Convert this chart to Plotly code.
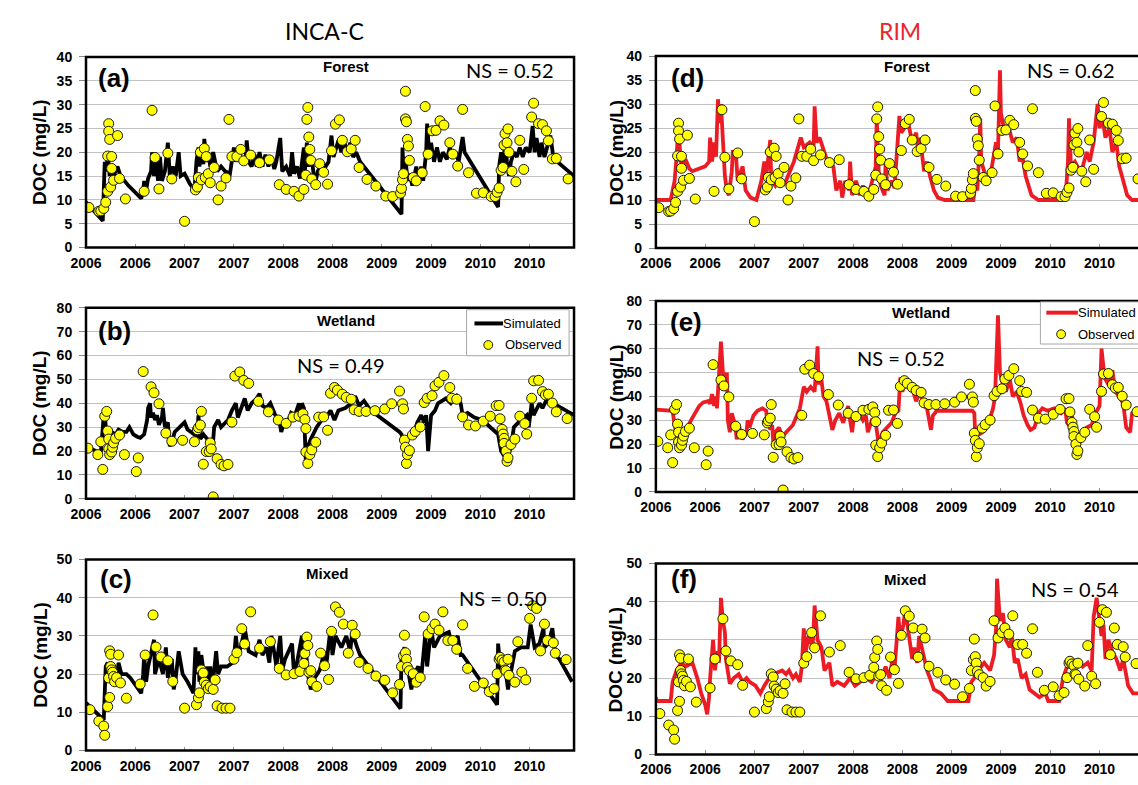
import plotly.graph_objects as go

# ---------------- data (decimal years, DOC mg/L) ----------------
TICK_VALS = [2006.0, 2006.5, 2007.0, 2007.5, 2008.0, 2008.5, 2009.0, 2009.5, 2010.0, 2010.5]
TICK_TEXT = ["2006", "2006", "2007", "2007", "2008", "2008", "2009", "2009", "2010", "2010"]

forest_obs_t = [2006.03, 2006.13, 2006.15, 2006.18, 2006.20, 2006.22, 2006.23, 2006.23, 2006.24, 2006.22,
                2006.26, 2006.25, 2006.26, 2006.28, 2006.34, 2006.32, 2006.40, 2006.59, 2006.67, 2006.70,
                2006.74, 2006.83, 2006.87, 2007.00, 2007.11, 2007.13, 2007.14, 2007.16, 2007.17, 2007.20,
                2007.22, 2007.21, 2007.24, 2007.26, 2007.30, 2007.34, 2007.37, 2007.42, 2007.45, 2007.48,
                2007.53, 2007.57, 2007.60, 2007.67, 2007.76, 2007.86, 2007.96, 2008.03, 2008.11, 2008.16,
                2008.21, 2008.23, 2008.24, 2008.25, 2008.26, 2008.27, 2008.28, 2008.29, 2008.33, 2008.37,
                2008.41, 2008.45, 2008.49, 2008.53, 2008.57, 2008.60, 2008.65, 2008.69, 2008.73, 2008.77,
                2008.85, 2008.94, 2009.04, 2009.11, 2009.19, 2009.20, 2009.21, 2009.22, 2009.24, 2009.24,
                2009.25, 2009.26, 2009.27, 2009.28, 2009.32, 2009.35, 2009.41, 2009.44, 2009.47, 2009.51,
                2009.55, 2009.59, 2009.63, 2009.69, 2009.72, 2009.77, 2009.82, 2009.88, 2009.96, 2010.03,
                2010.11, 2010.15, 2010.17, 2010.19, 2010.21, 2010.23, 2010.24, 2010.25, 2010.27, 2010.28,
                2010.29, 2010.32, 2010.36, 2010.40, 2010.44, 2010.52, 2010.54, 2010.59, 2010.63, 2010.67,
                2010.69, 2010.73, 2010.77, 2010.89]
forest_obs_v = [8.4, 7.6, 7.7, 8.2, 9.5, 11.8, 26.0, 24.4, 22.7, 19.2,
                19.1, 12.7, 16.6, 14.1, 14.5, 23.5, 10.2, 11.8, 28.8, 18.9,
                12.3, 19.8, 14.4, 5.5, 12.1, 12.7, 14.7, 20.0, 14.2, 20.8,
                19.1, 14.7, 15.5, 13.6, 16.8, 10.0, 12.9, 14.6, 26.9, 19.1,
                19.1, 20.6, 18.2, 19.4, 17.8, 18.4, 13.2, 12.2, 11.8, 10.8,
                12.2, 15.2, 26.9, 29.4, 23.2, 20.6, 18.3, 14.4, 13.2, 17.6,
                15.8, 13.3, 20.3, 25.9, 26.8, 22.5, 20.1, 20.7, 22.5, 16.8,
                14.3, 12.9, 10.8, 10.7, 11.4, 12.4, 14.2, 15.5, 32.8, 27.0,
                26.4, 22.7, 21.3, 18.3, 14.7, 14.0, 15.7, 29.6, 19.6, 24.5,
                24.6, 26.6, 25.7, 22.0, 19.6, 17.1, 29.0, 15.7, 11.4, 11.5,
                10.7, 10.7, 11.6, 12.5, 16.2, 16.8, 21.5, 23.9, 22.0, 24.9,
                20.0, 16.0, 13.8, 22.5, 16.4, 27.4, 30.3, 26.0, 25.8, 24.5,
                22.4, 18.6, 18.7, 14.4]

wetland_obs_t = [2006.02, 2006.12, 2006.15, 2006.17, 2006.19, 2006.21, 2006.22, 2006.23, 2006.23, 2006.24,
                 2006.26, 2006.27, 2006.28, 2006.30, 2006.34, 2006.39, 2006.51, 2006.53, 2006.58, 2006.66,
                 2006.69, 2006.74, 2006.81, 2006.87, 2006.98, 2007.10, 2007.13, 2007.14, 2007.16, 2007.17,
                 2007.19, 2007.22, 2007.25, 2007.26, 2007.27, 2007.33, 2007.37, 2007.40, 2007.44, 2007.29,
                 2007.51, 2007.56, 2007.60, 2007.65, 2007.48, 2007.75, 2007.85, 2007.95, 2008.03, 2008.10,
                 2008.16, 2008.20, 2008.22, 2008.23, 2008.23, 2008.25, 2008.27, 2008.29, 2008.33, 2008.36,
                 2008.41, 2008.45, 2008.48, 2008.52, 2008.55, 2008.60, 2008.64, 2008.69, 2008.72, 2008.77,
                 2008.84, 2008.93, 2009.03, 2009.10, 2009.18, 2009.21, 2009.22, 2009.23, 2009.24, 2009.25,
                 2009.26, 2009.28, 2009.31, 2009.34, 2009.39, 2009.43, 2009.46, 2009.51, 2009.54, 2009.58,
                 2009.63, 2009.69, 2009.71, 2009.76, 2009.82, 2009.88, 2009.95, 2010.03, 2010.10, 2010.16,
                 2010.19, 2010.20, 2010.22, 2010.23, 2010.24, 2010.24, 2010.26, 2010.27, 2010.28, 2010.31,
                 2010.35, 2010.40, 2010.45, 2010.47, 2010.52, 2010.54, 2010.59, 2010.63, 2010.66, 2010.69,
                 2010.73, 2010.77, 2010.88]
wetland_obs_v = [21.2, 18.5, 23.9, 12.3, 34.6, 36.6, 28.4, 25.0, 20.9, 18.5,
                 19.6, 21.6, 23.4, 25.3, 26.7, 18.5, 11.4, 17.1, 53.3, 46.9,
                 44.4, 39.8, 27.5, 24.1, 24.5, 23.9, 28.9, 29.8, 30.9, 36.6,
                 14.5, 19.8, 19.8, 23.4, 20.9, 16.8, 14.4, 13.8, 14.4, 0.8,
                 51.4, 53.1, 49.6, 48.3, 32.1, 40.8, 36.4, 33.0, 31.6, 34.2,
                 34.6, 35.6, 33.2, 29.4, 19.6, 14.8, 18.5, 20.5, 23.7, 34.2,
                 34.3, 28.7, 44.2, 46.6, 45.5, 43.8, 42.5, 41.7, 37.3, 36.6,
                 36.6, 36.9, 37.6, 39.8, 45.1, 39.8, 37.6, 24.6, 21.6, 14.8,
                 18.5, 20.2, 26.7, 28.2, 30.1, 40.3, 42.1, 43.2, 47.3, 48.8,
                 51.6, 46.6, 42.1, 41.7, 34.3, 30.9, 30.5, 32.5, 34.6, 39.0,
                 39.1, 33.5, 29.1, 27.1, 25.3, 23.2, 20.0, 15.7, 17.2, 22.7,
                 25.0, 34.6, 31.5, 27.1, 42.1, 49.4, 49.6, 44.9, 43.5, 43.8,
                 40.1, 36.4, 33.6]

mixed_obs_t = [2006.04, 2006.13, 2006.18, 2006.19, 2006.22, 2006.23, 2006.24, 2006.24, 2006.25, 2006.25,
               2006.26, 2006.27, 2006.28, 2006.29, 2006.31, 2006.33, 2006.35, 2006.41, 2006.55, 2006.60,
               2006.68, 2006.71, 2006.76, 2006.83, 2006.88, 2007.00, 2007.12, 2007.14, 2007.15, 2007.17,
               2007.19, 2007.20, 2007.22, 2007.24, 2007.26, 2007.29, 2007.31, 2007.33, 2007.38, 2007.42,
               2007.46, 2007.50, 2007.53, 2007.58, 2007.61, 2007.67, 2007.76, 2007.87, 2007.96, 2008.03,
               2008.11, 2008.17, 2008.21, 2008.22, 2008.24, 2008.25, 2008.26, 2008.28, 2008.29, 2008.34,
               2008.38, 2008.42, 2008.46, 2008.49, 2008.53, 2008.57, 2008.61, 2008.66, 2008.70, 2008.73,
               2008.77, 2008.86, 2008.94, 2009.03, 2009.11, 2009.18, 2009.20, 2009.22, 2009.23, 2009.24,
               2009.25, 2009.26, 2009.28, 2009.32, 2009.35, 2009.39, 2009.43, 2009.47, 2009.51, 2009.54,
               2009.58, 2009.62, 2009.67, 2009.72, 2009.76, 2009.82, 2009.87, 2009.94, 2010.03, 2010.09,
               2010.14, 2010.17, 2010.19, 2010.20, 2010.22, 2010.24, 2010.25, 2010.26, 2010.28, 2010.29,
               2010.35, 2010.38, 2010.42, 2010.46, 2010.50, 2010.53, 2010.57, 2010.61, 2010.65, 2010.68,
               2010.74, 2010.76, 2010.87]
mixed_obs_v = [10.7, 7.7, 6.4, 4.0, 11.5, 19.0, 13.9, 26.1, 25.2, 22.0,
               21.1, 20.5, 19.4, 18.0, 19.1, 25.0, 17.7, 13.7, 17.4, 25.0,
               35.5, 27.1, 24.5, 23.5, 18.1, 11.1, 12.0, 13.8, 15.1, 21.1,
               20.3, 17.9, 17.1, 16.2, 16.7, 16.0, 18.5, 11.7, 11.1, 11.1,
               11.1, 23.9, 25.6, 31.9, 27.9, 36.3, 26.8, 28.5, 21.5, 19.8,
               20.1, 20.7, 22.8, 25.4, 29.7, 27.5, 20.5, 20.9, 18.0, 16.8,
               25.5, 22.2, 18.6, 31.2, 37.6, 36.2, 33.1, 25.5, 32.8, 30.5,
               23.1, 21.5, 19.5, 18.4, 15.1, 17.3, 22.0, 24.8, 30.2, 25.6,
               23.9, 21.8, 20.9, 20.1, 17.9, 19.1, 35.0, 30.5, 31.9, 33.1,
               31.5, 36.3, 28.8, 28.8, 26.5, 32.9, 21.5, 16.8, 17.7, 15.4,
               16.2, 20.1, 23.9, 24.4, 23.7, 23.2, 21.1, 20.9, 23.9, 19.7,
               17.9, 28.5, 20.5, 18.5, 34.6, 37.9, 37.2, 26.1, 33.1, 28.8,
               28.2, 25.5, 23.8]

inca_forest_t = [2006.00, 2006.17, 2006.19, 2006.21, 2006.22, 2006.24, 2006.26, 2006.28, 2006.32, 2006.35,
                 2006.43, 2006.52, 2006.56, 2006.58, 2006.59, 2006.61, 2006.63, 2006.66, 2006.67, 2006.69,
                 2006.71, 2006.73, 2006.75, 2006.77, 2006.80, 2006.83, 2006.85, 2006.88, 2006.91, 2006.94,
                 2006.96, 2007.00, 2007.05, 2007.10, 2007.12, 2007.14, 2007.15, 2007.17, 2007.19, 2007.20,
                 2007.22, 2007.24, 2007.26, 2007.29, 2007.33, 2007.37, 2007.41, 2007.46, 2007.48, 2007.50,
                 2007.52, 2007.55, 2007.58, 2007.62, 2007.63, 2007.65, 2007.68, 2007.71, 2007.73, 2007.76,
                 2007.79, 2007.82, 2007.85, 2007.88, 2007.91, 2007.93, 2007.97, 2007.99, 2008.03, 2008.07,
                 2008.09, 2008.11, 2008.14, 2008.17, 2008.21, 2008.22, 2008.24, 2008.26, 2008.29, 2008.31,
                 2008.32, 2008.35, 2008.39, 2008.43, 2008.46, 2008.49, 2008.51, 2008.54, 2008.56, 2008.59,
                 2008.62, 2008.66, 2008.68, 2008.71, 2008.74, 2008.78, 2009.20, 2009.21, 2009.22, 2009.24,
                 2009.26, 2009.28, 2009.31, 2009.35, 2009.37, 2009.40, 2009.42, 2009.45, 2009.46, 2009.48,
                 2009.50, 2009.53, 2009.56, 2009.59, 2009.62, 2009.66, 2009.69, 2009.72, 2009.75, 2009.78,
                 2009.80, 2009.82, 2009.84, 2010.18, 2010.19, 2010.21, 2010.23, 2010.25, 2010.27, 2010.29,
                 2010.31, 2010.34, 2010.37, 2010.40, 2010.43, 2010.46, 2010.50, 2010.53, 2010.55, 2010.57,
                 2010.60, 2010.62, 2010.65, 2010.68, 2010.71, 2010.74, 2010.78, 2010.95]
inca_forest_v = [9.5, 5.6, 18, 16, 20, 15, 17.5, 15, 17, 15,
                 13, 11, 10.3, 12, 14, 12, 14.5, 16, 20, 15,
                 19, 14, 19, 14, 16, 22, 15, 17, 15, 20,
                 15, 15.5, 13.5, 12, 18, 21, 17, 20, 17.5, 22.8,
                 18, 20, 17, 20, 16, 17, 16, 15.5, 18, 21,
                 18, 20, 18.5, 19, 22.5, 18, 17, 19.5, 17, 20,
                 17, 19.5, 17, 19, 16.5, 18, 23, 16, 17, 15,
                 20, 15.5, 17, 14.5, 21, 16, 22, 17, 19, 14,
                 13, 16, 17.5, 17, 18, 23.5, 19, 21, 22.5, 20,
                 22, 20, 22, 19, 20, 18, 7, 21, 16, 19,
                 14, 15.5, 13, 17, 14, 17, 14, 20, 26, 20,
                 22, 18, 21, 18, 20, 18.5, 21, 19, 20, 18,
                 21, 23.2, 20, 8.5, 17, 20, 17, 22, 18, 15,
                 18, 20, 19, 21, 19, 21, 20, 25.5, 20, 23,
                 19, 22, 19, 21, 23.5, 19, 18, 15]

inca_wetland_t = [2006.00, 2006.15, 2006.18, 2006.19, 2006.21, 2006.26, 2006.30, 2006.33, 2006.37, 2006.41,
                  2006.44, 2006.48, 2006.52, 2006.55, 2006.59, 2006.62, 2006.63, 2006.65, 2006.66, 2006.68,
                  2006.70, 2006.72, 2006.74, 2006.77, 2006.78, 2006.80, 2006.83, 2006.85, 2006.88, 2006.90,
                  2006.95, 2007.00, 2007.03, 2007.06, 2007.11, 2007.13, 2007.14, 2007.16, 2007.19, 2007.23,
                  2007.25, 2007.28, 2007.30, 2007.34, 2007.37, 2007.41, 2007.44, 2007.48, 2007.52, 2007.54,
                  2007.57, 2007.61, 2007.64, 2007.68, 2007.73, 2007.76, 2007.79, 2007.83, 2007.87, 2007.92,
                  2007.96, 2007.98, 2008.01, 2008.03, 2008.08, 2008.12, 2008.16, 2008.17, 2008.19, 2008.21,
                  2008.23, 2008.25, 2008.28, 2008.34, 2008.39, 2008.45, 2008.48, 2008.52, 2008.56, 2008.63,
                  2008.69, 2008.73, 2008.77, 2008.82, 2008.87, 2008.90, 2008.92, 2009.18, 2009.20, 2009.22,
                  2009.25, 2009.33, 2009.36, 2009.40, 2009.43, 2009.45, 2009.47, 2009.50, 2009.54, 2009.57,
                  2009.65, 2009.70, 2009.76, 2009.80, 2009.82, 2009.87, 2009.94, 2010.02, 2010.18, 2010.21,
                  2010.27, 2010.31, 2010.34, 2010.41, 2010.47, 2010.49, 2010.52, 2010.54, 2010.60, 2010.63,
                  2010.69, 2010.74, 2010.82, 2010.95]
inca_wetland_v = [22, 19, 35, 36, 25, 28, 27, 29, 28, 28,
                  30, 27, 26, 25.5, 27, 33, 38, 40, 34, 36,
                  33, 35, 31, 34, 38, 30, 32, 22, 25, 28,
                  30, 32, 29, 28, 26.5, 26, 35, 25, 27, 25,
                  22, 19, 30, 33, 30, 32, 33, 37, 40, 34,
                  38, 42, 37, 40, 42, 44, 39, 38, 40, 35,
                  33, 28, 32, 30, 36, 35, 40, 35, 40, 38,
                  15, 22, 25, 30, 33, 35, 37, 33, 37, 38,
                  40, 43, 39, 41, 38, 37, 36, 28, 27, 22,
                  25, 28, 32, 35, 32, 35, 20, 35, 37, 40,
                  42, 40, 43, 40, 35, 36, 34, 33, 27, 20,
                  16, 22, 30, 33, 35, 30, 40, 35, 40, 38,
                  43, 40, 38, 35]

inca_mixed_t = [2006.00, 2006.18, 2006.20, 2006.22, 2006.25, 2006.27, 2006.31, 2006.33, 2006.36, 2006.41,
                2006.45, 2006.56, 2006.58, 2006.59, 2006.61, 2006.63, 2006.69, 2006.70, 2006.74, 2006.78,
                2006.81, 2006.83, 2006.87, 2006.89, 2006.91, 2006.92, 2006.94, 2006.98, 2007.03, 2007.09,
                2007.11, 2007.12, 2007.14, 2007.15, 2007.17, 2007.21, 2007.22, 2007.24, 2007.26, 2007.28,
                2007.30, 2007.32, 2007.34, 2007.37, 2007.43, 2007.49, 2007.50, 2007.52, 2007.54, 2007.57,
                2007.61, 2007.65, 2007.72, 2007.76, 2007.79, 2007.83, 2007.86, 2007.88, 2007.92, 2007.93,
                2007.97, 2007.99, 2008.02, 2008.09, 2008.11, 2008.14, 2008.19, 2008.20, 2008.22, 2008.25,
                2008.28, 2008.32, 2008.37, 2008.41, 2008.44, 2008.48, 2008.50, 2008.53, 2008.59, 2008.64,
                2008.68, 2008.70, 2008.75, 2008.78, 2008.84, 2009.19, 2009.20, 2009.23, 2009.26, 2009.30,
                2009.33, 2009.37, 2009.40, 2009.42, 2009.44, 2009.46, 2009.50, 2009.53, 2009.59, 2009.68,
                2009.71, 2009.77, 2009.80, 2009.82, 2010.17, 2010.18, 2010.21, 2010.24, 2010.28, 2010.32,
                2010.35, 2010.41, 2010.48, 2010.51, 2010.55, 2010.60, 2010.64, 2010.65, 2010.69, 2010.73,
                2010.76, 2010.80, 2010.93]
inca_mixed_v = [12.5, 8, 22, 23, 20, 22, 18, 23, 20, 20,
                19, 15, 20, 25, 18, 22, 29, 20, 24, 20,
                27, 19, 24, 16, 19, 22, 26, 20, 18, 15,
                27, 20, 26, 18, 25, 17, 22, 18, 22, 16,
                22, 26, 20, 22, 22, 23, 24, 30, 25, 27,
                32, 26, 25, 29, 25, 27, 23, 30, 24, 22,
                30, 21, 24, 28, 20, 23, 30, 20, 30, 20,
                16, 19, 21, 25, 23, 32, 25, 30, 27, 30,
                26, 31, 27, 25, 23, 11, 25, 27, 22, 16,
                20, 22, 19, 25, 30, 22, 32, 27, 30, 31,
                28, 30, 25, 25, 12, 28, 20, 24, 16, 22,
                26, 27, 27, 33, 27, 28, 32, 27, 28, 32,
                25, 24, 18]

rim_forest_t = [2006.00, 2006.15, 2006.17, 2006.19, 2006.21, 2006.23, 2006.25, 2006.28, 2006.30, 2006.34,
                2006.37, 2006.45, 2006.50, 2006.54, 2006.55, 2006.57, 2006.59, 2006.61, 2006.63, 2006.65,
                2006.66, 2006.70, 2006.72, 2006.74, 2006.77, 2006.78, 2006.81, 2006.83, 2006.88, 2006.91,
                2006.96, 2007.02, 2007.05, 2007.07, 2007.10, 2007.12, 2007.16, 2007.17, 2007.21, 2007.25,
                2007.29, 2007.32, 2007.36, 2007.40, 2007.47, 2007.50, 2007.56, 2007.60, 2007.61, 2007.63,
                2007.66, 2007.69, 2007.74, 2007.80, 2007.83, 2007.87, 2007.89, 2007.92, 2007.96, 2007.97,
                2007.99, 2008.03, 2008.07, 2008.10, 2008.14, 2008.17, 2008.21, 2008.23, 2008.24, 2008.25,
                2008.26, 2008.28, 2008.32, 2008.33, 2008.35, 2008.39, 2008.42, 2008.47, 2008.49, 2008.52,
                2008.56, 2008.60, 2008.64, 2008.66, 2008.68, 2008.72, 2008.75, 2008.78, 2008.82, 2008.86,
                2008.93, 2009.18, 2009.22, 2009.24, 2009.26, 2009.28, 2009.29, 2009.30, 2009.33, 2009.36,
                2009.40, 2009.43, 2009.45, 2009.47, 2009.49, 2009.50, 2009.52, 2009.55, 2009.58, 2009.62,
                2009.66, 2009.69, 2009.71, 2009.75, 2009.78, 2009.81, 2009.88, 2010.13, 2010.16, 2010.18,
                2010.19, 2010.21, 2010.25, 2010.30, 2010.33, 2010.37, 2010.40, 2010.44, 2010.48, 2010.50,
                2010.53, 2010.56, 2010.60, 2010.63, 2010.67, 2010.70, 2010.74, 2010.78, 2010.83, 2010.89]
rim_forest_v = [10, 10, 12, 14, 19, 26, 18, 17, 18.5, 16.5,
                16, 16.5, 17, 18, 23, 18, 22, 19, 31, 26,
                30, 15, 12, 11, 16, 20, 20, 14, 17, 12,
                10.5, 10, 12, 14, 18, 15, 22.5, 14, 13, 15,
                13, 14, 16, 18, 23, 21, 22, 21, 29.5, 22,
                23, 21, 18, 17, 12, 14, 10.5, 14, 12, 18,
                11, 14, 11, 13, 11, 12, 15, 17, 27, 22,
                16, 13, 11, 18, 12, 14, 12.5, 27.5, 24, 25,
                26, 22, 24, 20, 23, 16, 18, 15, 12, 10.5,
                10, 10, 10, 13, 12, 20, 27, 18, 16, 14,
                16, 20, 22, 20, 37, 28, 26, 24, 25, 22,
                23, 18, 20, 15, 13, 11, 10, 10, 12, 18,
                27, 17, 18, 16, 17, 20, 18, 22, 30, 25,
                27, 23, 25, 20, 22, 17, 14, 11, 10, 10]

rim_wetland_t = [2006.00, 2006.17, 2006.19, 2006.23, 2006.26, 2006.29, 2006.33, 2006.37, 2006.41, 2006.44,
                 2006.48, 2006.53, 2006.55, 2006.57, 2006.59, 2006.61, 2006.62, 2006.66, 2006.68, 2006.70,
                 2006.72, 2006.73, 2006.75, 2006.77, 2006.79, 2006.81, 2006.82, 2006.84, 2006.88, 2006.92,
                 2006.93, 2006.95, 2006.99, 2007.03, 2007.08, 2007.12, 2007.13, 2007.14, 2007.16, 2007.18,
                 2007.19, 2007.21, 2007.25, 2007.27, 2007.30, 2007.34, 2007.39, 2007.43, 2007.46, 2007.50,
                 2007.53, 2007.57, 2007.61, 2007.64, 2007.65, 2007.67, 2007.70, 2007.73, 2007.76, 2007.79,
                 2007.82, 2007.86, 2007.90, 2007.93, 2007.95, 2007.97, 2007.99, 2008.01, 2008.06, 2008.10,
                 2008.13, 2008.15, 2008.19, 2008.23, 2008.26, 2008.30, 2008.34, 2008.39, 2008.43, 2008.46,
                 2008.48, 2008.50, 2008.53, 2008.57, 2008.61, 2008.64, 2008.68, 2008.72, 2008.75, 2008.79,
                 2008.81, 2008.85, 2009.21, 2009.23, 2009.24, 2009.31, 2009.35, 2009.39, 2009.42, 2009.44,
                 2009.47, 2009.49, 2009.52, 2009.55, 2009.59, 2009.62, 2009.66, 2009.70, 2009.73, 2009.77,
                 2009.80, 2009.84, 2009.88, 2009.92, 2009.97, 2010.04, 2010.11, 2010.15, 2010.17, 2010.21,
                 2010.22, 2010.25, 2010.28, 2010.30, 2010.37, 2010.42, 2010.46, 2010.50, 2010.52, 2010.55,
                 2010.59, 2010.63, 2010.66, 2010.70, 2010.74, 2010.77, 2010.81, 2010.83, 2010.89]
rim_wetland_v = [34.5, 34, 28, 20, 22, 25, 28, 31, 34, 36,
                 37.5, 38, 37, 41, 36, 40, 35, 63, 50, 45,
                 50, 30, 25, 33, 30, 26, 22, 28, 22, 25,
                 30, 27, 32, 34, 35, 34, 27, 33, 26, 28,
                 21, 25, 27, 24, 24, 26, 28, 32, 35, 44,
                 42, 44, 42, 61, 45, 50, 40, 38, 32, 26,
                 30, 33, 29, 33, 36, 30, 25, 32, 33, 30,
                 32, 25, 30, 29, 20, 25, 27, 29, 33, 34,
                 48, 42, 46, 44, 42, 38, 42, 36, 35, 26,
                 32, 34, 34, 33, 23, 25, 27, 31, 35, 40,
                 74, 50, 45, 42, 47, 40, 42, 37, 32, 28,
                 26, 27, 33, 35, 34, 35, 33, 35, 29, 27,
                 32, 21, 17, 22, 27, 28, 33, 36, 60, 48,
                 45, 51, 42, 40, 37, 27, 25, 33, 35]

rim_mixed_t = [2006.00, 2006.01, 2006.15, 2006.17, 2006.21, 2006.26, 2006.30, 2006.37, 2006.42, 2006.46,
               2006.50, 2006.52, 2006.54, 2006.55, 2006.58, 2006.60, 2006.62, 2006.64, 2006.66, 2006.68,
               2006.70, 2006.71, 2006.75, 2006.79, 2006.84, 2006.88, 2006.92, 2006.95, 2007.01, 2007.06,
               2007.10, 2007.15, 2007.19, 2007.28, 2007.32, 2007.35, 2007.39, 2007.42, 2007.46, 2007.48,
               2007.50, 2007.52, 2007.55, 2007.59, 2007.61, 2007.64, 2007.68, 2007.71, 2007.76, 2007.79,
               2007.84, 2007.91, 2007.97, 2008.02, 2008.07, 2008.13, 2008.19, 2008.24, 2008.29, 2008.33,
               2008.37, 2008.40, 2008.42, 2008.46, 2008.48, 2008.51, 2008.53, 2008.57, 2008.60, 2008.62,
               2008.65, 2008.67, 2008.71, 2008.75, 2008.78, 2008.82, 2008.89, 2008.96, 2009.07, 2009.17,
               2009.20, 2009.23, 2009.26, 2009.30, 2009.33, 2009.39, 2009.43, 2009.45, 2009.46, 2009.49,
               2009.52, 2009.55, 2009.59, 2009.61, 2009.64, 2009.67, 2009.71, 2009.75, 2009.79, 2009.84,
               2009.89, 2009.95, 2009.98, 2010.09, 2010.13, 2010.17, 2010.20, 2010.24, 2010.28, 2010.33,
               2010.38, 2010.42, 2010.44, 2010.47, 2010.49, 2010.52, 2010.54, 2010.56, 2010.59, 2010.63,
               2010.67, 2010.71, 2010.74, 2010.79, 2010.84, 2010.89]
rim_mixed_v = [15, 14, 14, 19, 22, 24, 23, 24, 20, 16,
               13, 10.5, 15, 20, 30, 22, 27, 24, 41, 35,
               32, 25, 18.5, 20, 21, 19, 20, 19, 18, 16,
               18, 20, 21, 22, 21, 22, 20, 21, 19, 23,
               33, 27, 31, 28, 39, 30, 28, 22, 24, 18,
               19, 18, 20, 18, 19, 20, 19, 21, 20, 23,
               20, 25, 22, 36, 30, 34, 38, 30, 25, 28,
               24, 31, 26, 22, 20, 17, 16, 14, 14, 14,
               19, 20, 25, 23, 24, 22, 26, 33, 46, 35,
               37, 30, 28, 31, 24, 25, 20, 21, 17, 16,
               15, 16, 14, 14, 20, 23, 25, 22, 25, 23,
               24, 22, 36, 41, 37, 31, 34, 25, 30, 27,
               25, 22, 25, 18, 16, 16]

NS_VALUES = ["0.52", "0.49", "0.50", "0.62", "0.52", "0.54"]
SITES = ["Forest", "Wetland", "Mixed"]

# ---------------- styling / layout ----------------
W, H = 1138, 785
BLACK = "#000000"
RED = "#ec1c24"
YELLOW = "#ffff00"
BOLD = "Liberation Sans"


def fx(p):
    return p / W


def fy(p):
    return 1 - p / H


panels = [
    dict(letter="(a)", site=0, ns=0, sim=(inca_forest_t, inca_forest_v), obs=(forest_obs_t, forest_obs_v),
         color=BLACK, xs=(71, 566), ys=(50, 244.5), ymax=40, dt=5, xend=2010.95,
         let_xy=(99, 71), site_xy=(335, 60), ns_xy=(501, 63)),
    dict(letter="(b)", site=1, ns=1, sim=(inca_wetland_t, inca_wetland_v), obs=(wetland_obs_t, wetland_obs_v),
         color=BLACK, xs=(71, 566), ys=(306, 501), ymax=80, dt=10, xend=2010.95,
         let_xy=(100, 330), site_xy=(335, 319), ns_xy=(329, 364)),
    dict(letter="(c)", site=2, ns=2, sim=(inca_mixed_t, inca_mixed_v), obs=(mixed_obs_t, mixed_obs_v),
         color=BLACK, xs=(71, 566), ys=(563, 758), ymax=50, dt=10, xend=2010.95,
         let_xy=(101, 583), site_xy=(316, 577), ns_xy=(493, 602)),
    dict(letter="(d)", site=0, ns=3, sim=(rim_forest_t, rim_forest_v), obs=(forest_obs_t, forest_obs_v),
         color=RED, xs=(649, 1138), ys=(49, 245), ymax=40, dt=5, xend=2010.89,
         let_xy=(681, 71), site_xy=(904, 60), ns_xy=(1070, 63)),
    dict(letter="(e)", site=1, ns=4, sim=(rim_wetland_t, rim_wetland_v), obs=(wetland_obs_t, wetland_obs_v),
         color=RED, xs=(649, 1138), ys=(299, 494), ymax=80, dt=10, xend=2010.89,
         let_xy=(680, 321), site_xy=(918, 311), ns_xy=(897, 357)),
    dict(letter="(f)", site=2, ns=5, sim=(rim_mixed_t, rim_mixed_v), obs=(mixed_obs_t, mixed_obs_v),
         color=RED, xs=(649, 1138), ys=(567, 762), ymax=50, dt=10, xend=2010.89,
         let_xy=(678, 583), site_xy=(902, 583), ns_xy=(1074, 593)),
]

fig = go.Figure()
layout = dict(width=W, height=H, margin=dict(l=0, r=0, t=0, b=0),
              paper_bgcolor="white", plot_bgcolor="white", showlegend=False)
shapes = []
annotations = []

tickfont = dict(family=BOLD, size=14, color="black", weight="bold")

for i, p in enumerate(panels, start=1):
    xa = "x" if i == 1 else f"x{i}"
    ya = "y" if i == 1 else f"y{i}"
    xkey = "xaxis" if i == 1 else f"xaxis{i}"
    ykey = "yaxis" if i == 1 else f"yaxis{i}"
    layout[xkey] = dict(domain=[fx(p["xs"][0]), fx(p["xs"][1])], range=[2006.0, p["xend"]],
                        anchor=ya, tickmode="array", tickvals=TICK_VALS, ticktext=TICK_TEXT,
                        ticks="inside", ticklen=4, tickcolor="#999999", tickwidth=1,
                        tickfont=tickfont, ticklabelstandoff=5,
                        showgrid=False, zeroline=False, showline=False)
    layout[ykey] = dict(domain=[fy(p["ys"][1]), fy(p["ys"][0])], range=[0, p["ymax"]],
                        anchor=xa, tick0=0, dtick=p["dt"],
                        ticks="outside", ticklen=6, tickcolor="#888888", tickwidth=1,
                        tickfont=tickfont, ticklabelstandoff=4,
                        showgrid=True, gridcolor="#c2c2c2", gridwidth=1,
                        zeroline=False, showline=False)

    st, sv = p["sim"]
    fig.add_trace(go.Scatter(x=st, y=sv, xaxis=xa, yaxis=ya, mode="lines",
                             line=dict(color=p["color"], width=3.8), hoverinfo="skip"))
    ot, ov = p["obs"]
    fig.add_trace(go.Scatter(x=ot, y=ov, xaxis=xa, yaxis=ya, mode="markers",
                             marker=dict(size=10, color=YELLOW, line=dict(color="#1a1a1a", width=1)),
                             hoverinfo="skip"))

    # plot-area border (right column continues past the picture edge)
    x1 = 1.0 if p["xs"][1] < W else (1143 - p["xs"][0]) / (p["xs"][1] - p["xs"][0])
    shapes.append(dict(type="rect", xref=f"{xa} domain", yref=f"{ya} domain",
                       x0=0, x1=x1, y0=0, y1=1, line=dict(color="black", width=2.5),
                       layer="above"))

    lx, ly = p["let_xy"]
    annotations.append(dict(text=p["letter"], x=fx(lx), y=fy(ly), xref="paper", yref="paper",
                            showarrow=False, xanchor="center", yanchor="middle",
                            font=dict(family=BOLD, size=26, color="black", weight="bold")))
    sx, sy = p["site_xy"]
    annotations.append(dict(text=SITES[p["site"]], x=fx(sx), y=fy(sy), xref="paper", yref="paper",
                            showarrow=False, xanchor="center", yanchor="middle",
                            font=dict(family=BOLD, size=15, color="black", weight="bold")))
    nx, ny = p["ns_xy"]
    annotations.append(dict(text="NS = " + NS_VALUES[p["ns"]], x=fx(nx), y=fy(ny), xref="paper",
                            yref="paper", showarrow=False, xanchor="center", yanchor="middle",
                            font=dict(family="Lato", size=20, color="black")))
    tx = 24 if p["xs"][0] < 300 else 609
    annotations.append(dict(text="DOC (mg/L)", x=fx(tx), y=fy((p["ys"][0] + p["ys"][1]) / 2),
                            xref="paper", yref="paper", showarrow=False, textangle=-90,
                            xanchor="center", yanchor="middle",
                            font=dict(family=BOLD, size=19, color="black", weight="bold")))

annotations.append(dict(text="INCA-C", x=fx(313), y=fy(23), xref="paper", yref="paper",
                        showarrow=False, xanchor="center", yanchor="middle",
                        font=dict(family="Lato", size=23, color="black")))
annotations.append(dict(text="RIM", x=fx(897), y=fy(23), xref="paper", yref="paper",
                        showarrow=False, xanchor="center", yanchor="middle",
                        font=dict(family="Lato", size=23, color="#e8262c")))


def add_legend(box, line_seg, line_color, dot, txt_x1, txt_y1, txt_x2, txt_y2):
    bx0, by0, bx1, by1 = box
    shapes.append(dict(type="rect", xref="paper", yref="paper", x0=fx(bx0), x1=fx(bx1),
                       y0=fy(by1), y1=fy(by0), line=dict(color="#a6a6a6", width=1),
                       fillcolor="white", layer="above"))
    lx0, lx1, ly = line_seg
    shapes.append(dict(type="line", xref="paper", yref="paper", x0=fx(lx0), x1=fx(lx1),
                       y0=fy(ly), y1=fy(ly), line=dict(color=line_color, width=4), layer="above"))
    cx, cy = dot
    r = 4.5
    shapes.append(dict(type="circle", xref="paper", yref="paper", x0=fx(cx - r), x1=fx(cx + r),
                       y0=fy(cy + r), y1=fy(cy - r), line=dict(color="#1a1a1a", width=1),
                       fillcolor=YELLOW, layer="above"))
    annotations.append(dict(text="Simulated", x=fx(txt_x1), y=fy(txt_y1), xref="paper", yref="paper",
                            showarrow=False, xanchor="left", yanchor="middle",
                            font=dict(family=BOLD, size=13, color="black")))
    annotations.append(dict(text="Observed", x=fx(txt_x2), y=fy(txt_y2), xref="paper", yref="paper",
                            showarrow=False, xanchor="left", yanchor="middle",
                            font=dict(family=BOLD, size=13, color="black")))


add_legend((457, 308, 561, 355), (465, 494, 322), BLACK, (479, 344), 492, 322, 494, 344)
add_legend((1039, 300, 1150, 343), (1045, 1077, 311), RED, (1060, 333), 1075, 311, 1075, 333)

layout["shapes"] = shapes
layout["annotations"] = annotations
fig.update_layout(**layout)

fig.write_html("out.html")
